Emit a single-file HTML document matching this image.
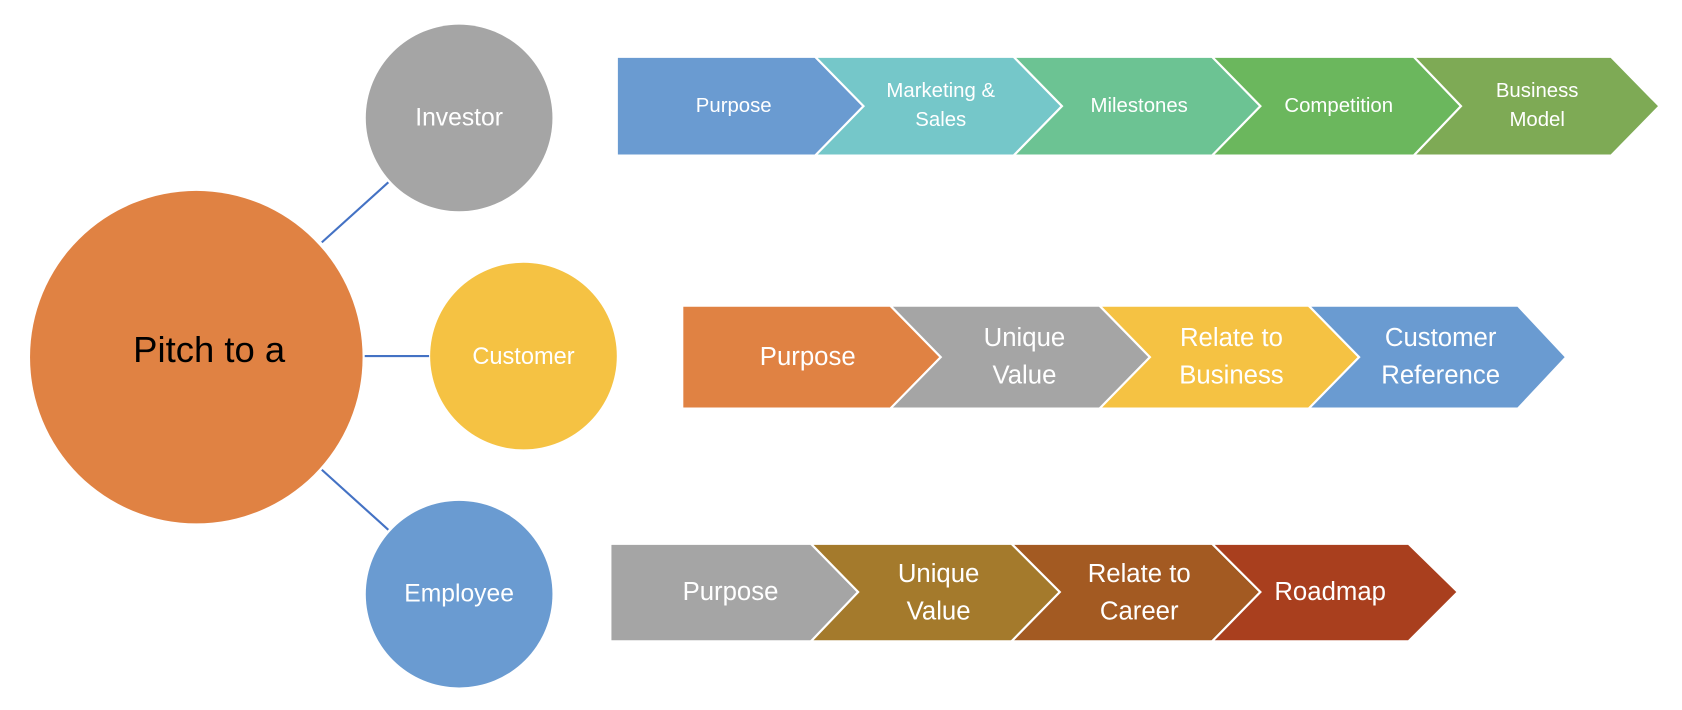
<!DOCTYPE html>
<html><head><meta charset="utf-8"><style>
html,body{margin:0;padding:0;background:#fff;}
svg{display:block;}
text{font-family:"Liberation Sans",sans-serif;fill:#fff;text-anchor:middle;dominant-baseline:central;}
</style></head><body>
<svg width="1682" height="710" viewBox="0 0 1568 662" preserveAspectRatio="none" xmlns="http://www.w3.org/2000/svg">
<g stroke="#4472C4" stroke-width="2">
<line x1="300" y1="226" x2="362" y2="170"/>
<line x1="340" y1="332" x2="400" y2="332"/>
<line x1="300" y1="438" x2="362" y2="494"/>
</g>
<circle cx="183" cy="333" r="155" fill="#E08243"/>
<text x="195" y="326" font-size="34" style="fill:#000">Pitch to a</text>
<circle cx="428" cy="110" r="87" fill="#A5A5A5"/>
<text x="428" y="110" font-size="23">Investor</text>
<circle cx="488" cy="332" r="87" fill="#F5C243"/>
<text x="488" y="332" font-size="22">Customer</text>
<circle cx="428" cy="554" r="87" fill="#6A9BD1"/>
<text x="428" y="554" font-size="23">Employee</text>

<g stroke="#fff" stroke-width="2">
<!-- row1 y 53-145 mid 99 -->
<polygon fill="#6A9BD1" points="575,53 760,53 805,99 760,145 575,145"/>
<polygon fill="#75C7C9" points="760,53 945,53 990,99 945,145 760,145 805,99"/>
<polygon fill="#6CC393" points="945,53 1130,53 1175,99 1130,145 945,145 990,99"/>
<polygon fill="#6BB75D" points="1130,53 1318,53 1362,99 1318,145 1130,145 1175,99"/>
<polygon fill="#7EAA55" points="1318,53 1502,53 1547,99 1502,145 1318,145 1362,99"/>
<!-- row2 y 285-381 mid 333 -->
<polygon fill="#E08243" points="636,285 830,285 877,333 830,381 636,381"/>
<polygon fill="#A5A5A5" points="830,285 1025,285 1072,333 1025,381 830,381 877,333"/>
<polygon fill="#F5C243" points="1025,285 1220,285 1267,333 1220,381 1025,381 1072,333"/>
<polygon fill="#6A9BD1" points="1220,285 1415,285 1460,333 1415,381 1220,381 1267,333"/>
<!-- row3 y 507-598 mid 552 -->
<polygon fill="#A5A5A5" points="569,507 756,507 800,552 756,598 569,598"/>
<polygon fill="#A47A2C" points="756,507 943,507 988,552 943,598 756,598 800,552"/>
<polygon fill="#A35A22" points="943,507 1130,507 1175,552 1130,598 943,598 988,552"/>
<polygon fill="#A93F1E" points="1130,507 1313,507 1359,552 1313,598 1130,598 1175,552"/>
</g>

<g font-size="19">
<text x="684" y="99">Purpose</text>
<text x="877" y="85">Marketing &amp;</text><text x="877" y="112">Sales</text>
<text x="1062" y="99">Milestones</text>
<text x="1248" y="99">Competition</text>
<text x="1433" y="85">Business</text><text x="1433" y="112">Model</text>
</g>
<g font-size="24">
<text x="753" y="333">Purpose</text>
<text x="955" y="315">Unique</text><text x="955" y="350">Value</text>
<text x="1148" y="315">Relate to</text><text x="1148" y="350">Business</text>
<text x="1343" y="315">Customer</text><text x="1343" y="350">Reference</text>
<text x="681" y="552">Purpose</text>
<text x="875" y="535">Unique</text><text x="875" y="570">Value</text>
<text x="1062" y="535">Relate to</text><text x="1062" y="570">Career</text>
<text x="1240" y="552">Roadmap</text>
</g>
</svg>
</body></html>
